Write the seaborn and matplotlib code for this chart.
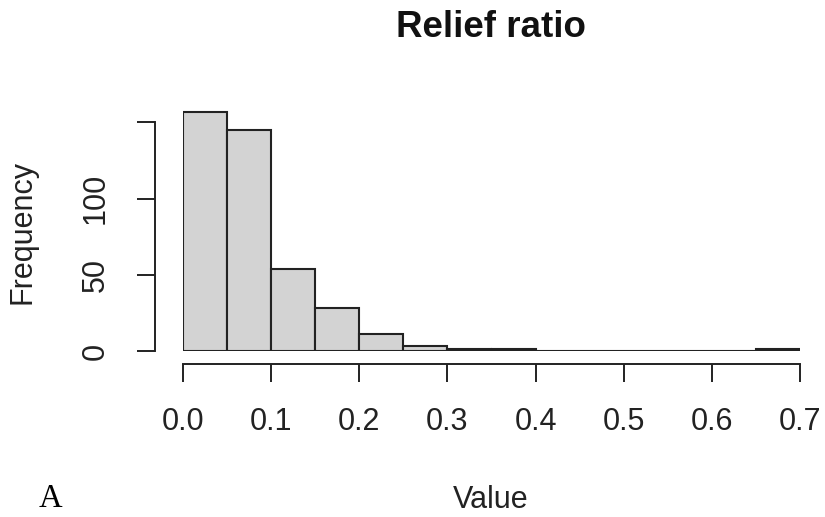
import numpy as np
import matplotlib
matplotlib.use("Agg")
import matplotlib.pyplot as plt
import seaborn as sns

# Histogram of relief ratio: bin edges and counts per bin
bin_edges = [0.00, 0.05, 0.10, 0.15, 0.20, 0.25, 0.30, 0.35, 0.40,
             0.45, 0.50, 0.55, 0.60, 0.65, 0.70]
counts = [157, 145, 54, 28, 11, 3, 1, 1, 0, 0, 0, 0, 0, 1]
x_ticks = [0.0, 0.1, 0.2, 0.3, 0.4, 0.5, 0.6, 0.7]
x_tick_labels = ["0.0", "0.1", "0.2", "0.3", "0.4", "0.5", "0.6", "0.7"]
y_ticks = [0, 50, 100, 150]
y_tick_labels = ["0", "50", "100", ""]

sns.set_style("white")
plt.rcParams["font.family"] = ["Liberation Sans", "DejaVu Sans"]

W, H = 825, 517
fig = plt.figure(figsize=(W / 100, H / 100), dpi=100)

# axes placement in pixels (data x from 0 to 0.7, y from 0 to 160)
x0_px, x1_px = 183, 800
y0_px = 351
y_per_unit = 1.525
y_top = 160
ax = fig.add_axes([x0_px / W, 1 - y0_px / H,
                   (x1_px - x0_px) / W, y_top * y_per_unit / H])

centers = [(a + b) / 2 for a, b in zip(bin_edges[:-1], bin_edges[1:])]
sns.histplot(x=centers, weights=counts, bins=bin_edges, ax=ax,
             color="#d3d3d3", edgecolor="#222222", linewidth=1.5,
             alpha=1.0)

ax.set_xlim(0, 0.7)
ax.set_ylim(0, y_top)

# R-style detached axes
for side in ("top", "right"):
    ax.spines[side].set_visible(False)
ax.spines["left"].set_position(("outward", 28 * 0.72))
ax.spines["bottom"].set_position(("outward", 13 * 0.72))
ax.spines["left"].set_bounds(0, 150)
ax.spines["bottom"].set_bounds(0, 0.7)
for side in ("left", "bottom"):
    ax.spines[side].set_color("#222222")
    ax.spines[side].set_linewidth(1.4)

ax.set_xticks(x_ticks)
ax.set_xticklabels(x_tick_labels)
ax.set_yticks(y_ticks)
ax.set_yticklabels(y_tick_labels, rotation=90, va="center")
ax.tick_params(axis="both", which="both", direction="out", length=13,
               width=1.4, color="#222222", labelsize=22, labelcolor="#222222",
               left=True, bottom=True)
ax.tick_params(axis="x", pad=18)
ax.tick_params(axis="y", pad=19)
ax.set_xlabel("")
ax.set_ylabel("")

fig.text(491 / W, 1 - 37 / H, "Relief ratio", ha="center", va="baseline",
         fontsize=26.5, fontweight="bold", color="#111111")
fig.text(491 / W, 1 - 508 / H, "Value", ha="center", va="baseline",
         fontsize=22, color="#222222")
fig.text(22 / W, 1 - 232 / H, "Frequency", ha="center", va="center",
         rotation=90, fontsize=22, color="#222222")
fig.text(39 / W, 1 - 507 / H, "A", ha="left", va="baseline",
         fontsize=23.5, family=["Liberation Serif", "DejaVu Serif"],
         color="black")

fig.savefig("out.png", dpi=100)
